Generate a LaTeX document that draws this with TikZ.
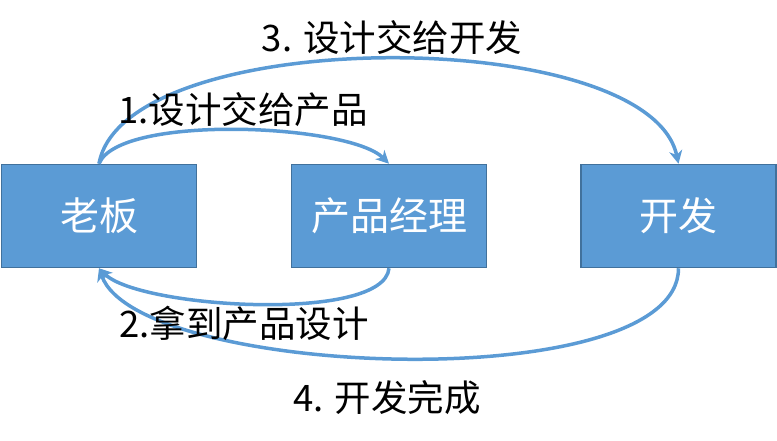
\documentclass[tikz,border=0pt]{standalone}
\usepackage{fontspec}
\setmainfont{Noto Sans CJK SC}
\usetikzlibrary{arrows.meta}
\definecolor{boxfill}{HTML}{5B9BD5}
\definecolor{boxline}{HTML}{41719C}
\definecolor{arrowc}{HTML}{5B9BD5}
\begin{document}
\begin{tikzpicture}[x=1pt,y=-1pt,
  role/.style={draw=boxline,line width=1.5pt,fill=boxfill,minimum width=195pt,minimum height=103pt,inner sep=0pt,text=white,font=\fontsize{39}{44}\selectfont},
  flow/.style={draw=arrowc,line width=3.5pt,-{Stealth[length=13pt,width=13pt,inset=4pt]}},
  lbl/.style={font=\fontsize{36.5}{42}\selectfont,text=black,inner sep=0pt}]
\useasboundingbox (0,0) rectangle (777,441);
\node[role] (boss) at (99,216) {老板};
\node[role] (pm) at (389,216) {产品经理};
\node[role] (dev) at (678.5,216) {开发};
\draw[flow] (boss.north) .. controls +(25,-140) and +(-30,-140) .. (dev.north);
\draw[flow] (boss.north) .. controls +(20,-50) and +(-40,-40) .. (pm.north);
\draw[flow] (pm.south) .. controls +(-5,55) and +(40,40) .. (boss.south);
\draw[flow] (dev.south) .. controls +(0,130) and +(40,110) .. (boss.south);
\node[lbl] (l3) at (392,38) {3. 设计交给开发};
\node[lbl] (l1) at (243,110) {1.设计交给产品};
\node[lbl] (l2) at (244,323) {2.拿到产品设计};
\node[lbl] (l4) at (387,398) {4. 开发完成};
\end{tikzpicture}
\end{document}
